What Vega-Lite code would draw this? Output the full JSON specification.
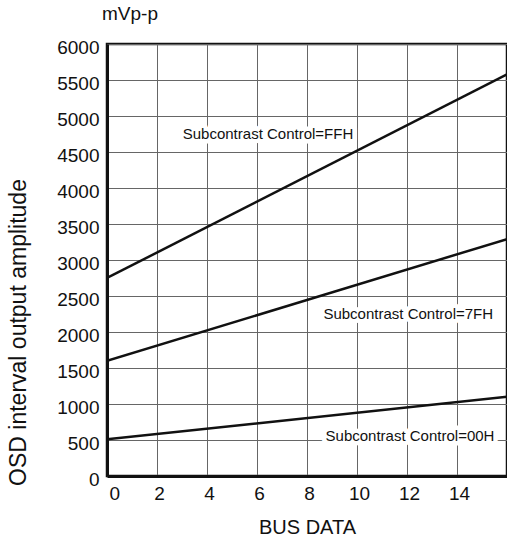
{
  "$schema": "https://vega.github.io/schema/vega-lite/v6.json",
  "autosize": {"type": "none"},
  "padding": {"left": 107, "top": 44, "right": 0, "bottom": 63},
  "width": 400,
  "height": 432,
  "background": "white",
  "config": {
    "font": "Liberation Sans",
    "view": {"stroke": "#111", "strokeWidth": 2.5},
    "axis": {
      "grid": true, "gridColor": "#666", "gridWidth": 1,
      "ticks": false, "tickSize": 0, "labelOverlap": false,
      "domainColor": "#111", "domainWidth": 3,
      "labelColor": "#111", "labelFont": "Liberation Sans", "labelFontSize": 19,
      "titleColor": "#111", "titleFont": "Liberation Sans", "titleFontWeight": "normal"
    }
  },
  "title": {
    "text": "mVp-p", "anchor": "start", "frame": "group", "dx": -5, "offset": 14,
    "fontSize": 19, "fontWeight": "normal", "color": "#111", "font": "Liberation Sans"
  },
  "datasets": {
    "lines": [
      {"series": "FFH", "bus": 0, "mv": 2750},
      {"series": "FFH", "bus": 16, "mv": 5580},
      {"series": "7FH", "bus": 0, "mv": 1600},
      {"series": "7FH", "bus": 16, "mv": 3290},
      {"series": "00H", "bus": 0, "mv": 510},
      {"series": "00H", "bus": 16, "mv": 1100}
    ],
    "labels": [
      {"text": "Subcontrast Control=FFH", "bus": 6.44, "mv": 4750},
      {"text": "Subcontrast Control=7FH", "bus": 12.05, "mv": 2250},
      {"text": "Subcontrast Control=00H", "bus": 12.12, "mv": 555}
    ]
  },
  "encoding": {
    "x": {
      "field": "bus", "type": "quantitative",
      "scale": {"domain": [0, 16], "nice": false, "zero": false},
      "axis": {
        "values": [0, 2, 4, 6, 8, 10, 12, 14],
        "title": "BUS DATA", "titleFontSize": 20,
        "labelPadding": 8, "labelOffset": 2,
        "titleBaseline": "alphabetic", "titleY": 57, "titleX": 200
      }
    },
    "y": {
      "field": "mv", "type": "quantitative",
      "scale": {"domain": [0, 6000], "nice": false},
      "axis": {
        "values": [0, 500, 1000, 1500, 2000, 2500, 3000, 3500, 4000, 4500, 5000, 5500, 6000],
        "format": "d", "labelOverlap": false,
        "title": "OSD interval output amplitude", "titleFontSize": 23,
        "labelPadding": 8, "labelOffset": 3,
        "titleBaseline": "alphabetic", "titleX": -82, "titleY": 288, "titleAlign": "center"
      }
    }
  },
  "layer": [
    {
      "data": {"name": "lines"},
      "mark": {"type": "line", "color": "#111", "strokeWidth": 2.5, "clip": true},
      "encoding": {
        "detail": {"field": "series"}
      }
    },
    {
      "data": {"name": "labels"},
      "mark": {"type": "text", "fontSize": 15, "color": "white", "stroke": "white", "strokeWidth": 9, "strokeJoin": "round", "baseline": "middle", "align": "center"},
      "encoding": {
        "text": {"field": "text"}
      }
    },
    {
      "data": {"name": "labels"},
      "mark": {"type": "text", "fontSize": 15, "color": "#111", "baseline": "middle", "align": "center"},
      "encoding": {
        "text": {"field": "text"}
      }
    }
  ]
}
